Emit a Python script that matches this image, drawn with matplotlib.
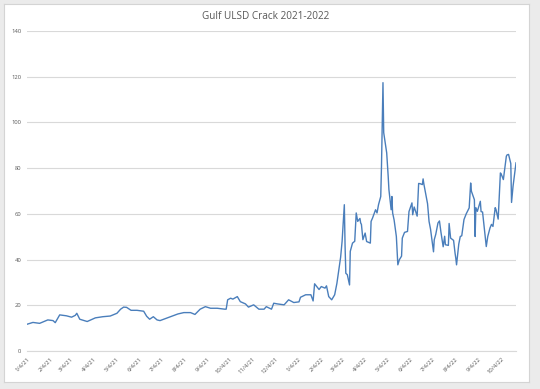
import matplotlib
matplotlib.use("Agg")
import matplotlib.pyplot as plt
from matplotlib.patches import Rectangle
import datetime as dt

title = "Gulf ULSD Crack 2021-2022"

dates = [
    "2021-01-04", "2021-01-12", "2021-01-21", "2021-02-01", "2021-02-08", "2021-02-11",
    "2021-02-17", "2021-02-26", "2021-03-05", "2021-03-10", "2021-03-12", "2021-03-16",
    "2021-03-19", "2021-03-26", "2021-04-06", "2021-04-16", "2021-04-26", "2021-05-05",
    "2021-05-10", "2021-05-14", "2021-05-18", "2021-05-24", "2021-06-01", "2021-06-10",
    "2021-06-14", "2021-06-18", "2021-06-23", "2021-06-28", "2021-07-02", "2021-07-07",
    "2021-07-16", "2021-07-26", "2021-08-03", "2021-08-12", "2021-08-18", "2021-08-25",
    "2021-09-01", "2021-09-08", "2021-09-17", "2021-09-27", "2021-09-29", "2021-10-01",
    "2021-10-05", "2021-10-08", "2021-10-14", "2021-10-18", "2021-10-25", "2021-10-29",
    "2021-11-05", "2021-11-12", "2021-11-19", "2021-11-22", "2021-11-29", "2021-12-02",
    "2021-12-07", "2021-12-16", "2021-12-22", "2021-12-29", "2022-01-05", "2022-01-07",
    "2022-01-14", "2022-01-21", "2022-01-24", "2022-01-26", "2022-02-01", "2022-02-04",
    "2022-02-09", "2022-02-11", "2022-02-14", "2022-02-18", "2022-02-22", "2022-02-25",
    "2022-03-02", "2022-03-04", "2022-03-07", "2022-03-08", "2022-03-09", "2022-03-11",
    "2022-03-14", "2022-03-15", "2022-03-18", "2022-03-21", "2022-03-23", "2022-03-25",
    "2022-03-28", "2022-03-29", "2022-03-30", "2022-04-01", "2022-04-04", "2022-04-06",
    "2022-04-11", "2022-04-12", "2022-04-14", "2022-04-18", "2022-04-20", "2022-04-22",
    "2022-04-25", "2022-04-26", "2022-04-28", "2022-04-29", "2022-05-03", "2022-05-05",
    "2022-05-06", "2022-05-09", "2022-05-10", "2022-05-11", "2022-05-13", "2022-05-16",
    "2022-05-18", "2022-05-20", "2022-05-23", "2022-05-24", "2022-05-27", "2022-05-31",
    "2022-06-02", "2022-06-06", "2022-06-07", "2022-06-09", "2022-06-13", "2022-06-15",
    "2022-06-17", "2022-06-20", "2022-06-21", "2022-06-22", "2022-06-27", "2022-06-29",
    "2022-07-01", "2022-07-05", "2022-07-06", "2022-07-08", "2022-07-11", "2022-07-13",
    "2022-07-15", "2022-07-18", "2022-07-20", "2022-07-21", "2022-07-25", "2022-07-26",
    "2022-07-28", "2022-08-01", "2022-08-03", "2022-08-04", "2022-08-05", "2022-08-08",
    "2022-08-10", "2022-08-12", "2022-08-15", "2022-08-18", "2022-08-22", "2022-08-24",
    "2022-08-25", "2022-08-29", "2022-08-30", "2022-08-31", "2022-09-02", "2022-09-06",
    "2022-09-07", "2022-09-09", "2022-09-12", "2022-09-14", "2022-09-16", "2022-09-19",
    "2022-09-21", "2022-09-23", "2022-09-26", "2022-09-27", "2022-09-30", "2022-10-03",
    "2022-10-04", "2022-10-07", "2022-10-11", "2022-10-12", "2022-10-14", "2022-10-17",
    "2022-10-18", "2022-10-20", "2022-10-24",
]

crack = [
    11.7, 12.5, 12.1, 13.6, 13.3, 12.4,
    15.8, 15.4, 14.8, 15.6, 16.5, 13.9,
    13.6, 12.9, 14.5, 15.0, 15.3, 16.5,
    18.3, 19.2, 19.1, 17.8, 17.8, 17.4,
    15.2, 13.9, 15.0, 13.6, 13.3, 13.9,
    15.0, 16.2, 16.8, 16.8, 16.0, 18.3,
    19.4, 18.7, 18.7, 18.3, 18.3, 22.4,
    23.1, 22.7, 23.8, 21.6, 20.6, 19.2,
    20.2, 18.3, 18.3, 19.4, 18.3, 20.9,
    20.6, 20.2, 22.4, 21.2, 21.5, 23.5,
    24.6, 24.6, 21.9, 29.4, 26.9, 28.2,
    27.5, 28.5, 23.8, 22.4, 24.6, 29.6,
    41.0, 48.0, 64.0, 46.0, 34.0, 33.4,
    28.9, 43.6, 47.2, 48.0, 60.4, 56.7,
    58.0, 56.0, 55.4, 48.7, 51.6, 47.9,
    47.2, 56.7, 58.2, 61.8, 60.4, 64.0,
    67.6, 80.8, 117.4, 95.5, 86.7, 76.5,
    70.6, 61.8, 67.6, 60.4, 57.3, 50.1,
    37.7, 39.9, 41.5, 49.4, 51.9, 52.3,
    61.0, 64.8, 59.6, 63.0, 59.0, 73.3,
    73.2, 72.8, 75.3, 73.1, 64.4, 56.7,
    53.3, 43.4, 48.7, 51.0, 56.0, 56.9,
    52.0, 45.6, 50.2, 46.5, 46.2, 55.8,
    49.4, 48.4, 42.8, 40.6, 37.7, 46.8,
    50.1, 50.4, 57.5, 60.0, 62.6, 73.5,
    69.9, 66.2, 50.1, 62.7, 61.1, 65.5,
    61.0, 60.8, 51.6, 45.7, 50.1, 53.8,
    55.4, 54.5, 62.7, 62.0, 57.7, 77.9,
    77.5, 75.0, 85.2, 85.8, 86.0, 82.0,
    65.0, 72.0, 82.3,
]

tick_dates = [
    "2021-01-04", "2021-02-04", "2021-03-04", "2021-04-04", "2021-05-04", "2021-06-04",
    "2021-07-04", "2021-08-04", "2021-09-04", "2021-10-04", "2021-11-04", "2021-12-04",
    "2022-01-04", "2022-02-04", "2022-03-04", "2022-04-04", "2022-05-04", "2022-06-04",
    "2022-07-04", "2022-08-04", "2022-09-04", "2022-10-04",
]
tick_labels = [
    "1/4/21", "2/4/21", "3/4/21", "4/4/21", "5/4/21", "6/4/21", "7/4/21", "8/4/21",
    "9/4/21", "10/4/21", "11/4/21", "12/4/21", "1/4/22", "2/4/22", "3/4/22", "4/4/22",
    "5/4/22", "6/4/22", "7/4/22", "8/4/22", "9/4/22", "10/4/22",
]
y_ticks = [0, 20, 40, 60, 80, 100, 120, 140]

W, H = 540, 389
fig = plt.figure(figsize=(W / 100, H / 100), dpi=100)
fig.patch.set_facecolor("#ebebeb")

# white chart panel (background axes)
bg = fig.add_axes([4 / W, (H - 382) / H, (529 - 4) / W, (382 - 4) / H], zorder=-5)
bg.set_xticks([])
bg.set_yticks([])
bg.set_facecolor("white")
for s in bg.spines.values():
    s.set_color("#d4d4d4")
    s.set_linewidth(0.8)

ax = fig.add_axes([27 / W, (H - 351) / H, (516 - 27) / W, (351 - 31) / H], zorder=1)
ax.set_facecolor("none")

xd = [dt.datetime.strptime(d, "%Y-%m-%d") for d in dates]
ax.plot(xd, crack, color="#4a7ebb", linewidth=1.0, zorder=3)

ax.set_ylim(0, 140)
ax.set_yticks(y_ticks)
ax.set_xlim(dt.datetime(2021, 1, 4), dt.datetime(2022, 10, 24))
td = [dt.datetime.strptime(d, "%Y-%m-%d") for d in tick_dates]
ax.set_xticks(td)
ax.set_xticklabels(tick_labels, rotation=45, ha="right", va="top",
                   rotation_mode="anchor")

ax.grid(axis="y", color="#d9d9d9", linewidth=0.8)
ax.grid(axis="x", visible=False)
for s in ["top", "right", "left"]:
    ax.spines[s].set_visible(False)
ax.spines["bottom"].set_color("#d9d9d9")
ax.spines["bottom"].set_linewidth(0.8)
ax.tick_params(axis="both", length=0, labelsize=4.2, labelcolor="#595959")
ax.tick_params(axis="y", pad=4)
ax.tick_params(axis="x", pad=4)
for lab in ax.get_xticklabels() + ax.get_yticklabels():
    lab.set_fontfamily("Open Sans")

fig.text(266 / W, 1 - 16.5 / H, title, ha="center", va="center",
         fontsize=7.2, color="#595959", fontfamily="Open Sans")

fig.savefig("out.png", dpi=100, facecolor=fig.get_facecolor())
